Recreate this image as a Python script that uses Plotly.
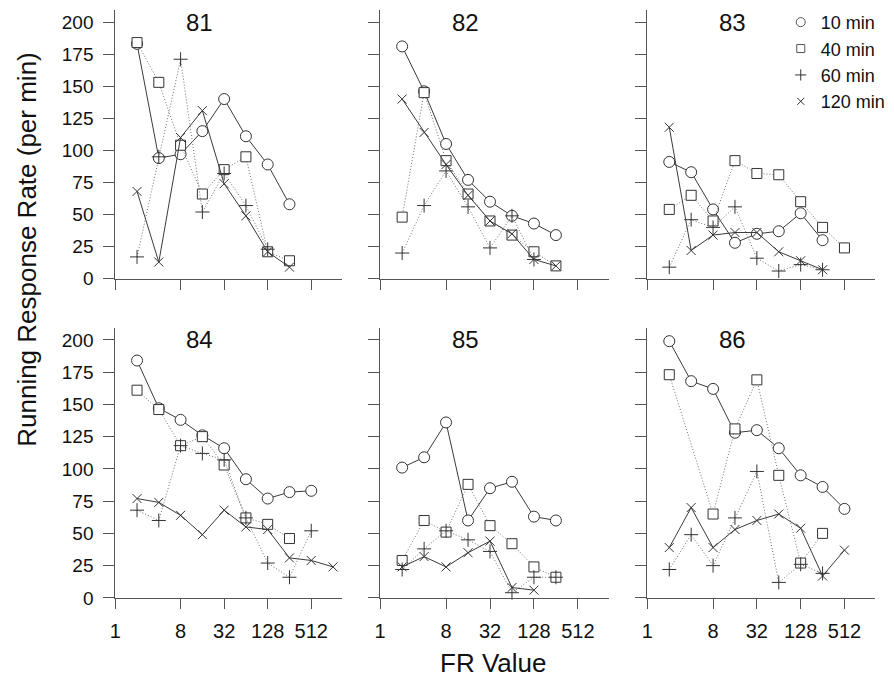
import plotly.graph_objects as go

# Fixed-ratio values (log2-spaced) and running response rates per session length
SESSIONS = ["10 min", "40 min", "60 min", "120 min"]

panel_81 = {
    "10 min": ([2, 4, 8, 16, 32, 64, 128, 256], [183, 94, 97, 115, 140, 111, 89, 58]),
    "40 min": ([2, 4, 8, 16, 32, 64, 128, 256], [184, 153, 104, 66, 85, 95, 21, 14]),
    "60 min": ([2, 4, 8, 16, 32, 64, 128], [17, 95, 171, 52, 82, 57, 23]),
    "120 min": ([2, 4, 8, 16, 32, 64, 128, 256], [68, 13, 110, 131, 74, 49, 21, 9]),
}
panel_82 = {
    "10 min": ([2, 4, 8, 16, 32, 64, 128, 256], [181, 146, 105, 77, 60, 49, 43, 34]),
    "40 min": ([2, 4, 8, 16, 32, 64, 128, 256], [48, 145, 92, 66, 45, 34, 21, 10]),
    "60 min": ([2, 4, 8, 16, 32, 64, 128], [20, 57, 84, 56, 24, 49, 15]),
    "120 min": ([2, 4, 8, 16, 32, 64, 128, 256], [140, 114, 89, 65, 45, 35, 15, 10]),
}
panel_83 = {
    "10 min": ([2, 4, 8, 16, 32, 64, 128, 256], [91, 83, 54, 28, 35, 37, 51, 30]),
    "40 min": ([2, 4, 8, 16, 32, 64, 128, 256, 512], [54, 65, 45, 92, 82, 81, 60, 40, 24]),
    "60 min": ([2, 4, 8, 16, 32, 64, 128, 256], [9, 46, 40, 56, 16, 6, 11, 7]),
    "120 min": ([2, 4, 8, 16, 32, 64, 128, 256], [118, 22, 34, 36, 36, 21, 14, 7]),
}
panel_84 = {
    "10 min": ([2, 4, 8, 16, 32, 64, 128, 256, 512], [184, 147, 138, 126, 116, 92, 77, 82, 83]),
    "40 min": ([2, 4, 8, 16, 32, 64, 128, 256], [161, 146, 118, 125, 103, 62, 57, 46]),
    "60 min": ([2, 4, 8, 16, 32, 64, 128, 256, 512], [68, 60, 118, 112, 107, 62, 27, 16, 52]),
    "120 min": ([2, 4, 8, 16, 32, 64, 128, 256, 512, 1024], [77, 74, 64, 49, 68, 55, 53, 31, 29, 24]),
}
panel_85 = {
    "10 min": ([2, 4, 8, 16, 32, 64, 128, 256], [101, 109, 136, 60, 85, 90, 63, 60]),
    "40 min": ([2, 4, 8, 16, 32, 64, 128, 256], [29, 60, 51, 88, 56, 42, 24, 16]),
    "60 min": ([2, 4, 8, 16, 32, 64, 128, 256], [22, 38, 52, 45, 36, 4, 16, 16]),
    "120 min": ([2, 4, 8, 16, 32, 64, 128], [24, 32, 24, 35, 44, 8, 6]),
}
panel_86 = {
    "10 min": ([2, 4, 8, 16, 32, 64, 128, 256, 512], [199, 168, 162, 128, 130, 116, 95, 86, 69]),
    "40 min": ([2, 8, 16, 32, 64, 128, 256], [173, 65, 131, 169, 95, 27, 50]),
    "60 min": ([2, 4, 8, 16, 32, 64, 128, 256], [22, 49, 25, 62, 98, 12, 26, 19]),
    "120 min": ([2, 4, 8, 16, 32, 64, 128, 256, 512], [39, 70, 39, 53, 60, 65, 54, 17, 37]),
}

panel_names = ["81", "82", "83", "84", "85", "86"]
panels = [panel_81, panel_82, panel_83, panel_84, panel_85, panel_86]

x_ticks = [1, 8, 32, 128, 512]
y_ticks = [0, 25, 50, 75, 100, 125, 150, 175, 200]

W, H = 894, 681
FONT = "Arial, Liberation Sans, sans-serif"
INK = "#333333"
AXIS = "#555555"

styles = {
    "10 min": dict(symbol="circle", size=11, fill="white", dash="solid", lc="#3a3a3a"),
    "40 min": dict(symbol="square", size=10, fill="white", dash="1px,2px", lc="#707070"),
    "60 min": dict(symbol="cross-thin-open", size=10, fill=INK, dash="1px,2px", lc="#707070"),
    "120 min": dict(symbol="x-thin-open", size=9, fill=INK, dash="solid", lc="#3a3a3a"),
}

# panel frames in pixels: (left, right) per column, (top, bottom) per row
cols_px = [(110, 338), (376.7, 606.7), (645.7, 875)]
rows_px = [(10, 283.3), (333, 607.7)]

fig = go.Figure()
layout = {}
for i, (name, data) in enumerate(zip(panel_names, panels)):
    r, c = divmod(i, 3)
    n = i + 1
    xa = "x" if n == 1 else f"x{n}"
    ya = "y" if n == 1 else f"y{n}"
    for s in SESSIONS:
        fr, rate = data[s]
        st = styles[s]
        fig.add_trace(go.Scatter(
            x=fr, y=rate, xaxis=xa, yaxis=ya, mode="lines+markers",
            showlegend=False, cliponaxis=False, name=s,
            line=dict(color=st["lc"], width=1, dash=st["dash"]),
            marker=dict(symbol=st["symbol"], size=st["size"], color=st["fill"],
                        line=dict(color=INK, width=1)),
        ))
    (x0, x1), (t0, t1) = cols_px[c], rows_px[r]
    layout[f"xaxis{'' if n == 1 else n}"] = dict(
        type="log", domain=[x0 / W, x1 / W], range=[0, 10.4 * 0.30103],
        anchor=ya, tickvals=x_ticks, ticktext=[str(v) for v in x_ticks],
        showticklabels=(r == 1), ticks="outside", ticklen=10, tickwidth=1,
        tickcolor=AXIS, showline=True, linecolor=AXIS, linewidth=1,
        showgrid=False, zeroline=False, ticklabelstandoff=5,
        tickfont=dict(family=FONT, size=20, color="#111"),
    )
    layout[f"yaxis{'' if n == 1 else n}"] = dict(
        domain=[1 - t1 / H, 1 - t0 / H], range=[0, 209.5], anchor=xa,
        tickvals=y_ticks, showticklabels=(c == 0), ticks="outside", ticklen=11,
        tickwidth=1, tickcolor=AXIS, showline=True, linecolor=AXIS, linewidth=1,
        showgrid=False, zeroline=False, ticklabelstandoff=6,
        tickfont=dict(family=FONT, size=19, color="#111"),
    )
    fig.add_annotation(
        text=name, xref=f"{xa} domain", yref=ya, x=0.373, y=200,
        showarrow=False, font=dict(family=FONT, size=24, color="#111"),
    )

# legend keys: markers only
for s in SESSIONS:
    st = styles[s]
    fig.add_trace(go.Scatter(
        x=[None], y=[None], mode="markers", name=s, showlegend=True,
        marker=dict(symbol=st["symbol"], size=st["size"] - 2, color=st["fill"],
                    line=dict(color="#555", width=1)),
    ))

fig.add_annotation(
    text="Running Response Rate (per min)", xref="paper", yref="paper",
    x=21 / W, y=1 - 253 / H, xanchor="center", yanchor="middle",
    textangle=-90, showarrow=False,
    font=dict(family=FONT, size=26, color="#111"),
)
fig.add_annotation(
    text="FR Value", xref="paper", yref="paper", x=490 / W, y=1 - 674 / H,
    xanchor="center", yanchor="middle",
    showarrow=False, font=dict(family=FONT, size=26, color="#111"),
)

fig.update_layout(
    width=W, height=H, autosize=False,
    margin=dict(l=0, r=0, t=0, b=0),
    paper_bgcolor="white", plot_bgcolor="white",
    legend=dict(x=780 / W, y=1 - 4 / H, xanchor="left", yanchor="top",
                font=dict(family=FONT, size=18, color="#111"),
                bgcolor="rgba(0,0,0,0)", itemsizing="trace", tracegroupgap=0),
    **layout,
)

fig.write_html("out.html")
